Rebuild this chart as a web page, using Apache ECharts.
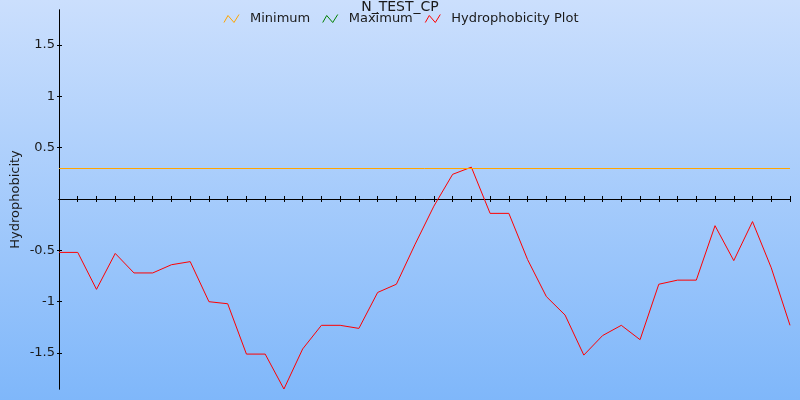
<!DOCTYPE html>
<html><head><meta charset="utf-8">
<script src="https://cdn.jsdelivr.net/npm/echarts@6/dist/echarts.min.js"></script>
<style>html,body{margin:0;padding:0;}#c{width:800px;height:400px;}</style>
</head><body><div id="c"></div>
<script>
const titleText = 'N_TEST_CP';
const positions = ['1','2','3','4','5','6','7','8','9','10','11','12','13','14','15','16','17','18','19','20',
  '21','22','23','24','25','26','27','28','29','30','31','32','33','34','35','36','37','38','39','40'];
const hydro = [-0.52,-0.52,-0.88,-0.53,-0.72,-0.72,-0.64,-0.61,-1.00,-1.02,
  -1.51,-1.51,-1.85,-1.46,-1.23,-1.23,-1.26,-0.91,-0.83,-0.44,
  -0.07,0.24,0.31,-0.14,-0.14,-0.59,-0.95,-1.13,-1.52,-1.33,
  -1.23,-1.37,-0.83,-0.79,-0.79,-0.26,-0.60,-0.22,-0.67,-1.23];
const minimumValue = 0.30;
const maximumData = [];
const yTicks = [-1.5, -1, -0.5, 0.5, 1, 1.5];
const yMin = -1.85, yMax = 1.84;

const font = 'DejaVu Sans';
const icon = 'path://M0,8 L4,1 L10,8 L15,0';
const chart = echarts.init(document.getElementById('c'));
const xBase = {
  type: 'category', data: positions, boundaryGap: false,
  axisLine: { onZero: true, lineStyle: { color: '#000', width: 1 } },
  axisLabel: { show: false }, splitLine: { show: false }
};
const yBase = {
  type: 'value', min: yMin, max: yMax, position: 'left',
  axisLine: { show: true, lineStyle: { color: '#000', width: 1 } },
  splitLine: { show: false }
};
chart.setOption({
  backgroundColor: new echarts.graphic.LinearGradient(0, 0, 0, 1, [
    { offset: 0, color: '#cbdffd' }, { offset: 1, color: '#7fb7fa' }
  ]),
  animation: false,
  title: { text: titleText, left: 'center', top: -5,
    textStyle: { fontFamily: font, fontSize: 14, fontWeight: 'normal', color: '#1a1a1a' } },
  legend: {
    top: 7, left: 'center', itemWidth: 15, itemHeight: 8, itemGap: 10,
    textStyle: { fontFamily: font, fontSize: 13, color: '#1a1a1a', padding: [0, 0, 0, 6] },
    data: [
      { name: 'Minimum', icon: icon, itemStyle: { color: 'none', borderColor: '#ffa500', borderWidth: 1 } },
      { name: 'Maximum', icon: icon, itemStyle: { color: 'none', borderColor: '#008000', borderWidth: 1 } },
      { name: 'Hydrophobicity Plot', icon: icon, itemStyle: { color: 'none', borderColor: '#ff0000', borderWidth: 1 } }
    ]
  },
  grid: { left: 59, right: 10, top: 10, bottom: 11, containLabel: false, outerBoundsMode: 'none' },
  xAxis: [
    Object.assign({}, xBase, { axisTick: { show: true, interval: 0, length: 3, lineStyle: { color: '#000' } } }),
    Object.assign({}, xBase, { position: 'bottom', axisTick: { show: true, interval: 0, inside: true, length: 3, lineStyle: { color: '#000' } } })
  ],
  yAxis: [
    Object.assign({}, yBase, {
      name: 'Hydrophobicity', nameLocation: 'middle', nameGap: 37, nameMoveOverlap: false,
      nameTextStyle: { fontFamily: font, fontSize: 13, color: '#1a1a1a' },
      axisTick: { show: true, length: 2, customValues: yTicks, lineStyle: { color: '#000' } },
      axisLabel: { show: true, customValues: yTicks, margin: 4, fontFamily: font, fontSize: 13, color: '#1a1a1a' }
    }),
    Object.assign({}, yBase, {
      axisTick: { show: true, inside: true, length: 3, customValues: yTicks, lineStyle: { color: '#000' } },
      axisLabel: { show: false }
    })
  ],
  series: [
    { name: 'Minimum', type: 'line', data: [], showSymbol: false, color: '#ffa500',
      lineStyle: { color: '#ffa500', width: 1 },
      markLine: { silent: true, symbol: 'none', label: { show: false },
        lineStyle: { color: '#ffa500', width: 1, type: 'solid' },
        data: [{ yAxis: minimumValue }] } },
    { name: 'Maximum', type: 'line', data: maximumData, showSymbol: false, color: '#008000',
      lineStyle: { color: '#008000', width: 1 } },
    { name: 'Hydrophobicity Plot', type: 'line', data: hydro, showSymbol: false, color: '#ff0000',
      lineStyle: { color: '#ff0000', width: 1 } }
  ]
});
</script></body></html>
